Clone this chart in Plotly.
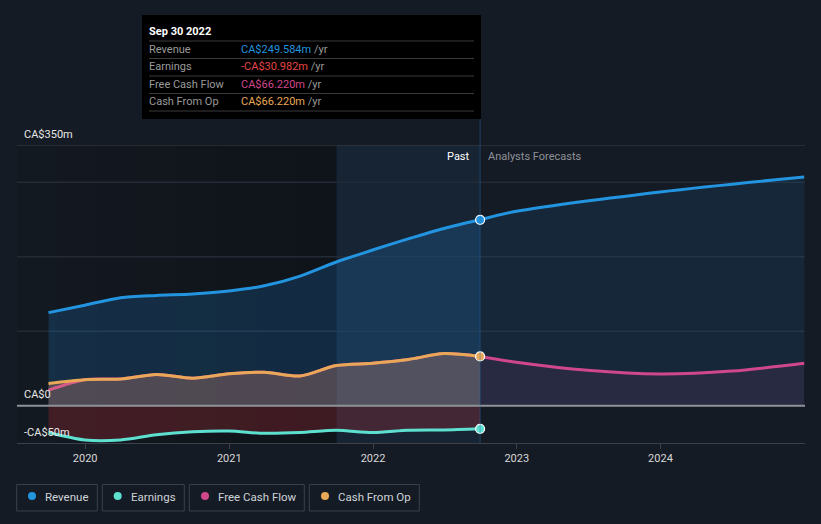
import plotly.graph_objects as go

# ---------------- data (CA$ millions) ----------------
past_dates = ["2019-09-30", "2019-12-31", "2020-03-31", "2020-06-30", "2020-09-30",
              "2020-12-31", "2021-03-31", "2021-06-30", "2021-09-30", "2021-12-31",
              "2022-03-31", "2022-06-30", "2022-09-30"]
revenue_past = [125, 135, 145, 148, 150, 154, 161, 174, 193, 209, 224, 238, 249.584]
earnings_past = [-36, -46, -46, -39, -35, -34, -37, -36, -33, -36, -33, -32.5, -30.982]
cfo_past = [30, 35, 36, 42, 37, 43, 45, 40, 54, 57, 62, 70, 66.22]
fcf_past = [21, 35, 36, 42, 37, 43, 45, 40, 54, 57, 62, 70, 66.22]

rev_fc_dates = ["2022-09-30", "2022-12-31", "2023-12-31", "2024-12-31"]
revenue_fc = [249.584, 261, 287, 307]
fcf_fc_dates = ["2022-09-30", "2022-12-31", "2023-06-30", "2023-12-31", "2024-06-30", "2024-12-31"]
fcf_fc = [66.22, 58.5, 47.5, 42.5, 46.5, 57]

year_ticks = ["2020-01-01", "2021-01-01", "2022-01-01", "2023-01-01", "2024-01-01"]
year_labels = ["2020", "2021", "2022", "2023", "2024"]

y_levels = [350, 0, -50]
y_level_labels = ["CA$350m", "CA$0", "-CA$50m"]
minor_grid = [300, 200, 100]

tooltip_date = "Sep 30 2022"
tooltip_rows = ["Revenue", "Earnings", "Free Cash Flow", "Cash From Op"]
tooltip_vals = ["CA$249.584m", "-CA$30.982m", "CA$66.220m", "CA$66.220m"]

legend_names = ["Revenue", "Earnings", "Free Cash Flow", "Cash From Op"]

# ---------------- style ----------------
C_REV = "#2394df"
C_EARN = "#5de0cf"
C_FCF = "#d0478b"
C_CFO = "#e9a857"
C_EARN_TXT = "#e84545"
BG = "#151b24"
FONT = "Roboto"

W, H = 821, 524
L, R, T, B = 17, 16, 145, 81
X0_PX, X1_PX = L, W - R
Y_TOP, Y_BOT = T, H - B


def px(x):
    return (x - X0_PX) / (X1_PX - X0_PX)


def py(y):
    return (Y_BOT - y) / (Y_BOT - Y_TOP)


fig = go.Figure()

line_style = dict(width=3, shape="spline", smoothing=0.8)

# revenue fills
fig.add_trace(go.Scatter(x=rev_fc_dates, y=revenue_fc, mode="lines",
                         line=dict(color=C_REV, width=3, shape="spline", smoothing=1.0),
                         fill="tozeroy", fillcolor="rgba(33,150,243,0.10)", hoverinfo="skip"))
fig.add_trace(go.Scatter(x=past_dates, y=revenue_past, mode="lines", line=dict(color=C_REV, **line_style),
                         fill="tozeroy", fillcolor="rgba(33,150,243,0.18)", hoverinfo="skip"))
# earnings
fig.add_trace(go.Scatter(x=past_dates, y=earnings_past, mode="lines", line=dict(color=C_EARN, **line_style),
                         fill="tozeroy", fillcolor="rgba(230,50,60,0.22)", hoverinfo="skip"))
# free cash flow
fig.add_trace(go.Scatter(x=fcf_fc_dates, y=fcf_fc, mode="lines", line=dict(color=C_FCF, **line_style),
                         fill="tozeroy", fillcolor="rgba(208,71,139,0.10)", hoverinfo="skip"))
fig.add_trace(go.Scatter(x=past_dates, y=fcf_past, mode="lines", line=dict(color=C_FCF, **line_style),
                         hoverinfo="skip"))
# cash from op
fig.add_trace(go.Scatter(x=past_dates, y=cfo_past, mode="lines", line=dict(color=C_CFO, **line_style),
                         fill="tozeroy", fillcolor="rgba(220,140,120,0.30)", hoverinfo="skip"))

# end markers
for series, col in [(revenue_past, C_REV), (cfo_past, C_CFO), (earnings_past, C_EARN)]:
    fig.add_trace(go.Scatter(x=[past_dates[-1]], y=[series[-1]], mode="markers",
                             marker=dict(color=col, size=9, line=dict(color="white", width=1.2)), hoverinfo="skip"))

shapes = []
# darker past gradient
steps = 8
for i in range(steps):
    xa = 17 + (337 - 17) * i / steps
    xb = 17 + (337 - 17) * (i + 1) / steps
    shapes.append(dict(type="rect", xref="paper", yref="paper", x0=px(xa), x1=px(xb), y0=0, y1=1,
                       fillcolor="rgba(0,0,0,%.3f)" % (0.03 + 0.22 * (i + 1) / steps), line=dict(width=0), layer="below"))
# highlighted last year band
shapes.append(dict(type="rect", xref="x", yref="paper", x0="2021-09-30", x1=past_dates[-1], y0=0, y1=1,
                   fillcolor="rgba(33,150,243,0.08)", line=dict(width=0), layer="below"))
# grid lines
for v in minor_grid:
    shapes.append(dict(type="line", xref="paper", yref="y", x0=0, x1=1, y0=v, y1=v,
                       line=dict(color="#232b36", width=1.5), layer="below"))
shapes.append(dict(type="line", xref="paper", yref="y", x0=0, x1=1, y0=350, y1=350,
                   line=dict(color="#3b4049", width=1.2), layer="above"))
shapes.append(dict(type="line", xref="paper", yref="y", x0=0, x1=1, y0=0, y1=0,
                   line=dict(color="#8f9399", width=2), layer="above"))
# vertical cursor line
shapes.append(dict(type="line", xref="x", yref="paper", x0=past_dates[-1], x1=past_dates[-1], y0=0, y1=py(119),
                   line=dict(color="rgba(40,110,170,0.45)", width=1), layer="above"))

# tooltip box
shapes.append(dict(type="rect", xref="paper", yref="paper", x0=px(142), x1=px(481), y0=py(119), y1=py(15),
                   fillcolor="#000000", line=dict(width=0), layer="above"))
for yy in [41, 58.5, 76, 93.5, 111]:
    shapes.append(dict(type="line", xref="paper", yref="paper", x0=px(149), x1=px(474), y0=py(yy), y1=py(yy),
                       line=dict(color="#3a3a3a", width=1), layer="above"))

annotations = []
annotations.append(dict(xref="paper", yref="paper", x=px(147), y=py(31), text="<b>" + tooltip_date + "</b>",
                        showarrow=False, xanchor="left", yanchor="middle", font=dict(family=FONT, size=11, color="#ffffff")))
val_cols = [C_REV, C_EARN_TXT, C_FCF, C_CFO]
for i, (lab, val, col) in enumerate(zip(tooltip_rows, tooltip_vals, val_cols)):
    yy = 49.5 + i * 17.3
    annotations.append(dict(xref="paper", yref="paper", x=px(147), y=py(yy), text=lab, showarrow=False,
                            xanchor="left", yanchor="middle", font=dict(family=FONT, size=11, color="#9a9a9a")))
    annotations.append(dict(xref="paper", yref="paper", x=px(239), y=py(yy),
                            text="<span style='color:%s'>%s</span> /yr" % (col, val), showarrow=False,
                            xanchor="left", yanchor="middle", font=dict(family=FONT, size=11, color="#9a9a9a")))

# y level labels
for v, t in zip(y_levels, y_level_labels):
    annotations.append(dict(xref="paper", yref="y", x=px(22), y=v, yshift=11, text=t, showarrow=False,
                            xanchor="left", yanchor="middle", font=dict(family=FONT, size=11, color="#e8e8e8")))

# Past / forecast labels
annotations.append(dict(xref="x", yref="paper", x=past_dates[-1], xshift=-8, y=py(156), text="Past", showarrow=False,
                        xanchor="right", yanchor="middle", font=dict(family=FONT, size=11, color="#ffffff")))
annotations.append(dict(xref="x", yref="paper", x=past_dates[-1], xshift=6, y=py(156), text="Analysts Forecasts",
                        showarrow=False, xanchor="left", yanchor="middle", font=dict(family=FONT, size=11, color="#8d9198")))

# custom legend
box_x = [(16.7, 97.3), (102.3, 184.3), (189.3, 304.3), (309.3, 419.3)]
dot_x = [32, 117.7, 205, 325]
txt_x = [44.3, 130, 217, 337]
leg_cols = [C_REV, C_EARN, C_FCF, C_CFO]
for (a, b), dx, tx, name, col in zip(box_x, dot_x, txt_x, legend_names, leg_cols):
    shapes.append(dict(type="rect", xref="paper", yref="paper", x0=px(a), x1=px(b), y0=py(511), y1=py(484.5),
                       line=dict(color="#3b414a", width=1), fillcolor="rgba(0,0,0,0)", layer="above"))
    shapes.append(dict(type="circle", xref="paper", yref="paper", x0=px(dx - 4), x1=px(dx + 4), y0=py(500), y1=py(492),
                       line=dict(width=0), fillcolor=col, layer="above"))
    annotations.append(dict(xref="paper", yref="paper", x=px(tx - 1), y=py(496.5), text=name, showarrow=False,
                            xanchor="left", yanchor="middle", font=dict(family=FONT, size=11.5, color="#cfd3d8")))

fig.update_layout(
    width=W, height=H,
    margin=dict(l=L, r=R, t=T, b=B),
    paper_bgcolor=BG, plot_bgcolor=BG,
    showlegend=False,
    shapes=shapes, annotations=annotations,
    font=dict(family=FONT, color="#d8d8d8"),
    xaxis=dict(range=["2019-07-12", "2025-01-02"], tickvals=year_ticks, ticktext=year_labels,
               showgrid=False, zeroline=False, showline=True, linecolor="#3b4049", linewidth=1,
               ticks="outside", ticklen=5, tickcolor="#3b4049", tickfont=dict(size=11, color="#d8d8d8"),
               fixedrange=True),
    yaxis=dict(range=[-50, 350], showgrid=False, zeroline=False, showticklabels=False, fixedrange=True),
)

fig.write_html("out.html", config={"displayModeBar": False},
               post_script="document.body.style.margin='0';document.body.style.background='%s';" % BG)
